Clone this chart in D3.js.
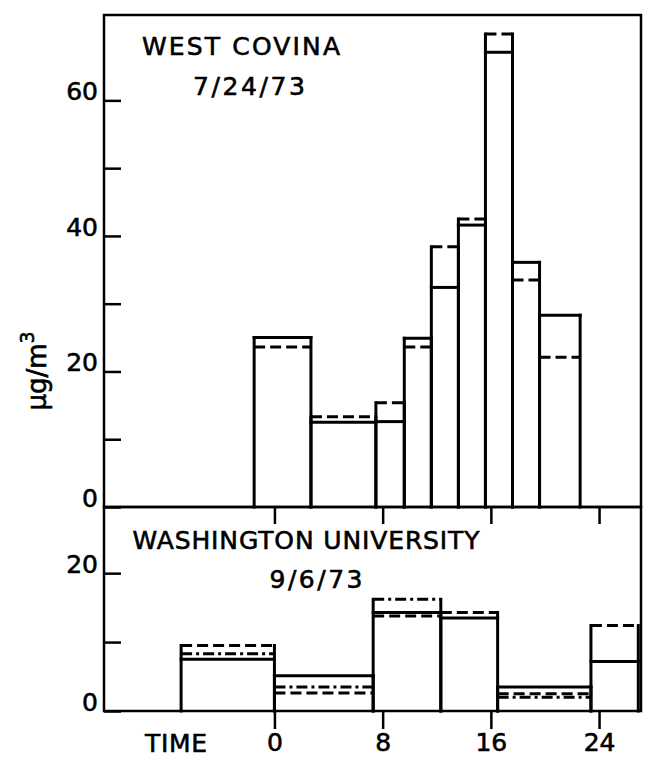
<!DOCTYPE html>
<html>
<head>
<meta charset="utf-8">
<script src="https://cdn.jsdelivr.net/npm/d3@7"></script>
<style>
  body { margin: 0; background: #fff; }
  svg { display: block; }
  text { stroke: #000; stroke-width: 0.6px; }
</style>
</head>
<body>
<svg id="chart" width="655" height="771"></svg>
<script>
// West Covina, 7/24/73: sampling-interval edges (hour of day) and concentrations (µg/m³)
const wcEdges  = [-1.5, 2.7, 7.5, 9.6, 11.6, 13.6, 15.6, 17.6, 19.6, 22.6];
const wcSolid  = [25.0, 12.5, 12.6, 24.9, 32.4, 41.6, 67.1, 36.1, 28.3];
const wcDashed = [23.6, 13.3, 15.4, 23.6, 38.4, 42.5, 69.8, 33.5, 22.1];

// Washington University, 9/6/73
const wuEdges   = [-6.9, 0, 7.3, 12.3, 16.5, 23.4, 26.9];
const wuSolid   = [7.5, 5.1, 14.3, 13.5, 3.5, 7.2];
const wuDashed  = [9.5, 2.6, 13.8, 14.3, 2.5, 12.4];
const wuDashDot = [8.3, 3.5, 16.2, null, 2.0, null];

// Axis ticks and labels
const timeTicks = [0, 8, 16, 24];
const wcYTicks = [0, 10, 20, 30, 40, 50, 60];
const wcYLabels = [0, 20, 40, 60];
const wuYTicks = [0, 10, 20];
const wuYLabels = [0, 20];

const FONT = "'DejaVu Sans', Verdana, sans-serif";
const INK = "#000";

const svg = d3.select("#chart");

const x = d3.scaleLinear().domain([-12.6, 27.1]).range([104, 641]);
const yTop = d3.scaleLinear().domain([0, 72.6]).range([507, 15]);
const yBot = d3.scaleLinear().domain([0, 29.6]).range([711, 507]);

const dashes = { solid: null, dashed: "11,5", dashdot: "11,4,3,4" };

// Panel frames
function frame(y) {
  const [y0, y1] = y.range();
  svg.append("rect")
    .attr("x", x.range()[0]).attr("y", y1)
    .attr("width", x.range()[1] - x.range()[0]).attr("height", y0 - y1)
    .attr("fill", "none").attr("stroke", INK).attr("stroke-width", 2.5);
}
frame(yTop);
frame(yBot);

// Step histogram boxes: sides rise to the highest reading, one level line per series
function drawPanel(edges, series, y) {
  const g = svg.append("g");
  for (let i = 0; i < edges.length - 1; i++) {
    const x0 = x(edges[i]), x1 = x(edges[i + 1]);
    const vals = series.map(s => s.values[i]).filter(v => v != null);
    const top = d3.max(vals);
    [x0, x1].forEach(xx => {
      g.append("line")
        .attr("x1", xx).attr("x2", xx)
        .attr("y1", y(0)).attr("y2", y(top))
        .attr("stroke", INK).attr("stroke-width", 3)
        .attr("stroke-linecap", "square");
    });
    series.forEach(s => {
      const v = s.values[i];
      if (v == null) return;
      g.append("line")
        .attr("x1", x0).attr("x2", x1)
        .attr("y1", y(v)).attr("y2", y(v))
        .attr("stroke", INK).attr("stroke-width", 3)
        .attr("stroke-linecap", s.style === "solid" ? "square" : "butt")
        .attr("stroke-dasharray", dashes[s.style]);
    });
  }
}

drawPanel(wcEdges, [
  { values: wcSolid, style: "solid" },
  { values: wcDashed, style: "dashed" }
], yTop);

drawPanel(wuEdges, [
  { values: wuSolid, style: "solid" },
  { values: wuDashed, style: "dashed" },
  { values: wuDashDot, style: "dashdot" }
], yBot);

// Y axes: ticks point into the panel, labels sit on the tick line
function yAxis(y, ticks, labels) {
  const ax = svg.append("g")
    .attr("transform", `translate(${x.range()[0]},0)`)
    .call(d3.axisLeft(y)
      .tickValues(ticks)
      .tickSize(-17)
      .tickPadding(6)
      .tickFormat(d => labels.includes(d) ? d : ""));
  ax.select(".domain").remove();
  ax.selectAll(".tick line").attr("stroke", INK).attr("stroke-width", 2.5);
  ax.selectAll(".tick text")
    .attr("dy", "-0.02em")
    .attr("fill", INK)
    .style("font-family", FONT)
    .style("font-size", "25px");
}
yAxis(yTop, wcYTicks, wcYLabels);
yAxis(yBot, wuYTicks, wuYLabels);

// Time axis: ticks below the divider and below the lower panel
const divider = svg.append("g")
  .attr("transform", `translate(0,${yTop(0)})`)
  .call(d3.axisBottom(x).tickValues(timeTicks).tickSize(17).tickFormat(""));
divider.select(".domain").remove();
divider.selectAll(".tick line").attr("stroke", INK).attr("stroke-width", 2.5);

const timeAxis = svg.append("g")
  .attr("transform", `translate(0,${yBot(0)})`)
  .call(d3.axisBottom(x).tickValues(timeTicks).tickSize(18).tickPadding(4));
timeAxis.select(".domain").remove();
timeAxis.selectAll(".tick line").attr("stroke", INK).attr("stroke-width", 2.5);
timeAxis.selectAll(".tick text")
  .attr("fill", INK)
  .style("font-family", FONT)
  .style("font-size", "25px");

// Text labels
function label(txt, cx, y, width) {
  const t = svg.append("text")
    .attr("x", cx).attr("y", y)
    .attr("text-anchor", "middle")
    .attr("fill", INK)
    .style("font-family", FONT)
    .style("font-size", "25px")
    .text(txt);
  if (width) t.attr("textLength", width).attr("lengthAdjust", "spacing");
  return t;
}
label("WEST COVINA", 241, 55, 198);
label("7/24/73", 249, 95, 112);
label("WASHINGTON UNIVERSITY", 306, 549, 347);
label("9/6/73", 316, 588, 93);
label("TIME", 176, 752, 62);

// Units label, rotated
const unit = svg.append("text")
  .attr("transform", "translate(46,371) rotate(-90)")
  .attr("text-anchor", "middle")
  .attr("fill", INK)
  .style("font-family", FONT)
  .style("font-size", "26px");
unit.append("tspan").text("μg/m");
unit.append("tspan").attr("dy", -12).style("font-size", "19px").text("3");
</script>
</body>
</html>
